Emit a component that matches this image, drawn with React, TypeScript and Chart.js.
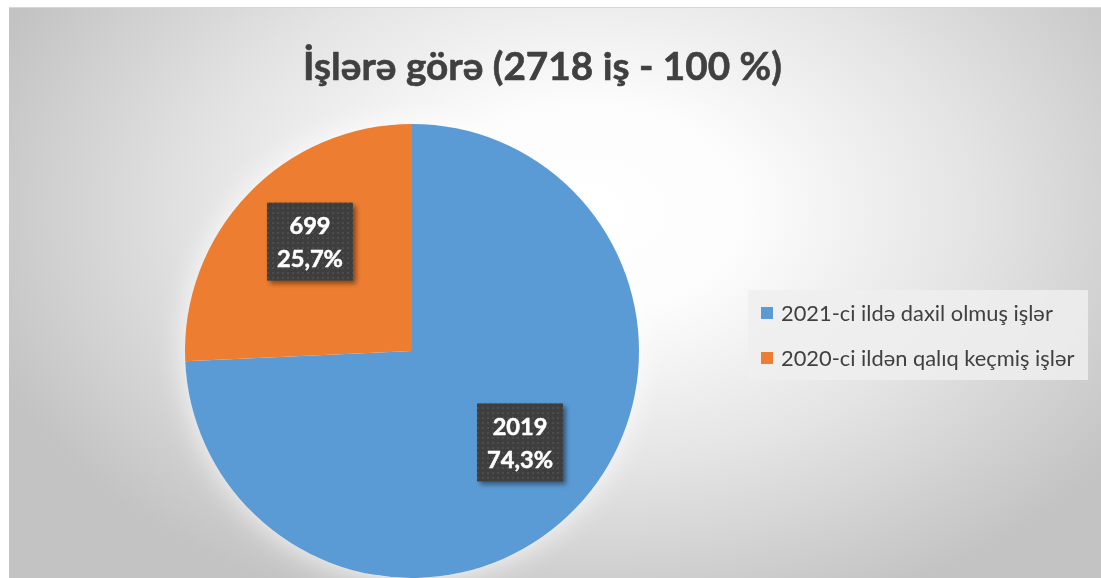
import React, { useEffect, useRef } from "react";
import { Chart, registerables } from "chart.js";

Chart.register(...registerables);

const titleText = "İşlərə görə (2718 iş - 100 %)";
const categories = ["2021-ci ildə daxil olmuş işlər", "2020-ci ildən qalıq keçmiş işlər"];
const values = [2019, 699];
const percentLabels = ["74,3%", "25,7%"];
const colors = ["#5B9BD5", "#ED7D31"];

const FONT = "Lato, 'Open Sans', sans-serif";

function fitSize(ctx: CanvasRenderingContext2D, text: string, weight: string, target: number) {
  ctx.font = `${weight} 100px ${FONT}`;
  const w = ctx.measureText(text).width;
  return (100 * target) / w;
}

function makePattern(ctx: CanvasRenderingContext2D) {
  const c = document.createElement("canvas");
  c.width = 5;
  c.height = 5;
  const p = c.getContext("2d")!;
  p.fillStyle = "#3e3e3e";
  p.fillRect(0, 0, 5, 5);
  p.fillStyle = "#4d4d4d";
  p.fillRect(2, 2, 2, 2);
  return ctx.createPattern(c, "repeat")!;
}

const bgPlugin = {
  id: "bgPlugin",
  beforeDraw(chart: any) {
    const ctx: CanvasRenderingContext2D = chart.ctx;
    const W = chart.width;
    const H = chart.height;
    ctx.save();
    ctx.fillStyle = "#ffffff";
    ctx.fillRect(0, 0, W, H);
    const cx = 590, cy = 210, rx = 640, ry = 430;
    ctx.save();
    ctx.beginPath();
    ctx.rect(9, 8, W - 9, H - 8);
    ctx.clip();
    ctx.translate(cx, cy);
    ctx.scale(1, ry / rx);
    const g = ctx.createRadialGradient(0, 0, 0, 0, 0, rx);
    g.addColorStop(0, "#ffffff");
    g.addColorStop(0.25, "#fcfcfc");
    g.addColorStop(0.6, "#e4e4e4");
    g.addColorStop(1, "#c3c3c3");
    ctx.fillStyle = g;
    ctx.fillRect(-cx - 10, (-cy - 10) * (rx / ry), W + 40, (H + 40) * (rx / ry));
    ctx.restore();
    ctx.fillStyle = "#d6d6d6";
    ctx.fillRect(9, 7, W - 9, 1);
    // title
    const ts = fitSize(ctx, titleText, "bold", 479);
    ctx.font = `bold ${ts}px ${FONT}`;
    ctx.fillStyle = "#404040";
    ctx.textAlign = "center";
    ctx.textBaseline = "alphabetic";
    ctx.fillText(titleText, 542.5, 80);
    ctx.strokeStyle = "#404040";
    ctx.lineWidth = 0.6;
    ctx.strokeText(titleText, 542.5, 80);
    // legend
    ctx.fillStyle = "rgba(238,238,238,0.85)";
    ctx.fillRect(748, 290, 340, 90);
    const ls = fitSize(ctx, categories[0], "normal", 272);
    ctx.font = `normal ${ls}px ${FONT}`;
    ctx.textAlign = "left";
    ctx.textBaseline = "middle";
    const ds = chart.data.datasets[0];
    chart.data.labels.forEach((lab: string, i: number) => {
      const y = 313 + i * 45;
      ctx.fillStyle = ds.backgroundColor[i];
      ctx.fillRect(761, y - 6, 12, 12);
      ctx.fillStyle = "#404040";
      ctx.fillText(lab, 781, y + 1);
    });
    ctx.restore();
  },
  beforeDatasetsDraw(chart: any) {
    const ctx: CanvasRenderingContext2D = chart.ctx;
    const arc = chart.getDatasetMeta(0).data[0];
    if (!arc) return;
    const { x, y, outerRadius } = arc.getProps(["x", "y", "outerRadius"], true);
    ctx.save();
    ctx.beginPath();
    ctx.arc(x, y, outerRadius, 0, Math.PI * 2);
    ctx.fillStyle = "#ffffff";
    ctx.shadowColor = "rgba(255,255,255,0.85)";
    ctx.shadowBlur = 30;
    ctx.fill();
    ctx.restore();
  },
};

const labelPlugin = {
  id: "labelPlugin",
  afterDatasetsDraw(chart: any) {
    const ctx: CanvasRenderingContext2D = chart.ctx;
    const meta = chart.getDatasetMeta(0);
    const pattern = makePattern(ctx);
    const fs = fitSize(ctx, "25,7%", "bold", 66);
    meta.data.forEach((el: any, i: number) => {
      const { x, y, startAngle, endAngle, outerRadius } = el.getProps(
        ["x", "y", "startAngle", "endAngle", "outerRadius"],
        true
      );
      const mid = (startAngle + endAngle) / 2;
      const cx = x + Math.cos(mid) * outerRadius * 0.64 + 3;
      const cy = y + Math.sin(mid) * outerRadius * 0.64 - 9;
      const bw = 86, bh = 78;
      ctx.save();
      ctx.shadowColor = "rgba(0,0,0,0.45)";
      ctx.shadowBlur = 5;
      ctx.shadowOffsetX = 3;
      ctx.shadowOffsetY = 3;
      ctx.fillStyle = pattern;
      ctx.fillRect(cx - bw / 2, cy - bh / 2, bw, bh);
      ctx.restore();
      ctx.save();
      ctx.font = `bold ${fs}px ${FONT}`;
      ctx.fillStyle = "#ffffff";
      ctx.strokeStyle = "#ffffff";
      ctx.lineWidth = 0.5;
      ctx.textAlign = "center";
      ctx.textBaseline = "middle";
      ctx.fillText(String(values[i]), cx, cy - 15);
      ctx.strokeText(String(values[i]), cx, cy - 15);
      ctx.fillText(percentLabels[i], cx, cy + 18);
      ctx.strokeText(percentLabels[i], cx, cy + 18);
      ctx.restore();
    });
  },
};

export default function App() {
  const ref = useRef<HTMLCanvasElement>(null);
  useEffect(() => {
    document.body.style.margin = "0";
    document.body.style.overflow = "hidden";
    document.documentElement.style.overflow = "hidden";
    const chart = new Chart(ref.current!, {
      type: "pie",
      data: {
        labels: categories,
        datasets: [
          {
            data: values,
            backgroundColor: colors,
            borderWidth: 0,
          },
        ],
      },
      options: {
        animation: false,
        responsive: false,
        events: [],
        layout: { padding: { left: 185, right: 462, top: 124, bottom: 0 } },
        plugins: {
          legend: { display: false },
          title: { display: false },
          tooltip: { enabled: false },
        },
      },
      plugins: [bgPlugin, labelPlugin],
    });
    return () => chart.destroy();
  }, []);
  return (
    <div style={{ width: 1101, height: 578 }}>
      <canvas ref={ref} width={1101} height={578} style={{ display: "block" }} />
    </div>
  );
}
